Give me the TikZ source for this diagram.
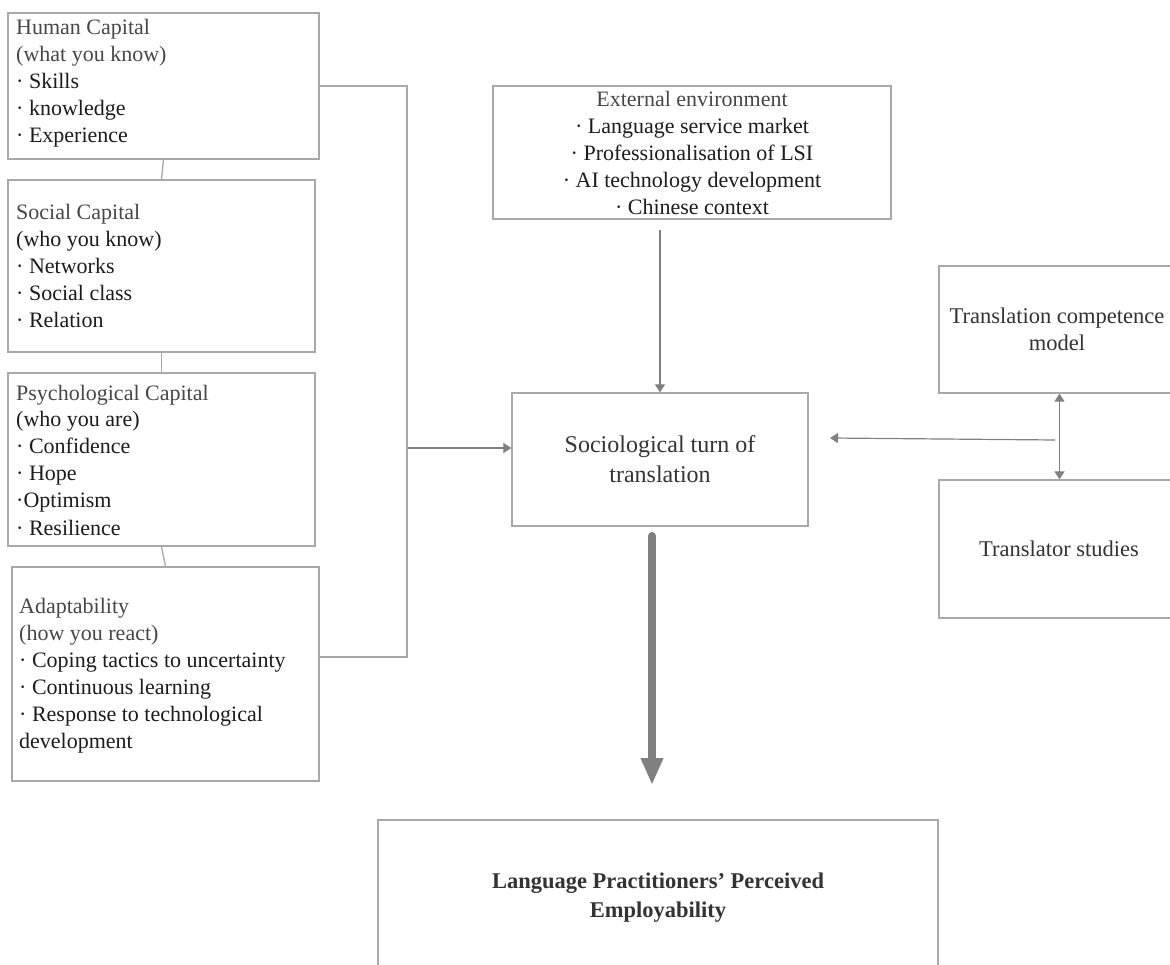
\documentclass[tikz,border=0pt]{standalone}
\usepackage{fontspec}
\setmainfont{Liberation Serif}
\usetikzlibrary{arrows.meta}
\definecolor{boxline}{HTML}{A8A8A8}
\definecolor{arrowgray}{HTML}{808080}
\definecolor{headtext}{HTML}{474747}
\definecolor{itemtext}{HTML}{1C1C1C}
\definecolor{midtext}{HTML}{333333}

\begin{document}
\begin{tikzpicture}[x=1pt,y=-1pt,
  box/.style={draw=boxline,line width=1.3pt,rectangle,inner sep=0pt},
  txt/.style={inner sep=0pt,font=\fontsize{22}{27}\selectfont,text=itemtext},
  link/.style={draw=boxline,line width=1.3pt},
  flow/.style={draw=arrowgray,line width=1.2pt,-{Triangle[width=10pt,length=8pt]}},
  both/.style={draw=arrowgray,line width=1.2pt,{Triangle[width=10pt,length=8pt]}-{Triangle[width=10pt,length=8pt]}},
  bigflow/.style={draw=arrowgray,line width=8pt,line cap=round,-{Triangle[width=21pt,length=27pt]}},
]
\clip (0,0) rectangle (1170,965);
\fill[white] (0,0) rectangle (1170,965);

% employability resources (left column)
\node[box,minimum width=311pt,minimum height=146pt] (hc) at (163.5,86) {};
\node[box,minimum width=307pt,minimum height=172pt] (sc) at (161.5,266) {};
\node[box,minimum width=307pt,minimum height=173pt] (pc) at (161.5,459.5) {};
\node[box,minimum width=307pt,minimum height=214pt] (ad) at (165.5,674) {};

\node[txt,anchor=base west] (hct) at (16,35) {\begin{tabular}[t]{@{}l@{}}
\textcolor{headtext}{Human Capital}\\
\textcolor{headtext}{(what you know)}\\
· Skills\\
· knowledge\\
· Experience
\end{tabular}};

\node[txt,anchor=base west] (sct) at (16,220) {\begin{tabular}[t]{@{}l@{}}
\textcolor{headtext}{Social Capital}\\
(who you know)\\
· Networks\\
· Social class\\
· Relation
\end{tabular}};

\node[txt,anchor=base west] (pct) at (16,400) {\begin{tabular}[t]{@{}l@{}}
\textcolor{headtext}{Psychological Capital}\\
(who you are)\\
· Confidence\\
· Hope\\
·Optimism\\
· Resilience
\end{tabular}};

\node[txt,anchor=base west] (adt) at (19,613) {\begin{tabular}[t]{@{}l@{}}
\textcolor{headtext}{Adaptability}\\
\textcolor{headtext}{(how you react)}\\
· Coping tactics to uncertainty\\
· Continuous learning\\
· Response to technological\\
development
\end{tabular}};

% context and theory boxes
\node[box,minimum width=398pt,minimum height=133pt] (ext) at (692,152.5) {};
\node[txt,anchor=base] (extt) at (692,107) {\begin{tabular}[t]{@{}c@{}}
\textcolor{headtext}{External environment}\\
· Language service market\\
· Professionalisation of LSI\\
· AI technology development\\
· Chinese context
\end{tabular}};

\node[box,minimum width=296pt,minimum height=133pt] (soc) at (660,459.5) {};
\node[txt,anchor=base,font=\fontsize{24}{29}\selectfont,text=midtext] (soct) at (660,453) {\begin{tabular}[t]{@{}c@{}}
Sociological turn of\\
translation
\end{tabular}};

\node[box,minimum width=241pt,minimum height=127pt] (tcm) at (1059.5,329.5) {};
\node[txt,anchor=base,font=\fontsize{22.5}{27}\selectfont,text=midtext] (tcmt) at (1057,324) {\begin{tabular}[t]{@{}c@{}}
Translation competence\\
model
\end{tabular}};

\node[box,minimum width=241pt,minimum height=138pt] (ts) at (1059.5,549) {};
\node[txt,anchor=base,font=\fontsize{22.5}{27}\selectfont,text=midtext] (tst) at (1059,556) {Translator studies};

% outcome
\node[box,minimum width=560pt,minimum height=170pt] (emp) at (658,905) {};
\node[txt,anchor=base,font=\fontsize{22.5}{29}\selectfont\bfseries,text=midtext] (empt) at (658,888) {\begin{tabular}[t]{@{}c@{}}
Language Practitioners’ Perceived\\
Employability
\end{tabular}};

% links between the four capitals
\draw[link] (hc.south) -- (sc.north);
\draw[link] (sc.south) -- (pc.north);
\draw[link] (pc.south) -- (ad.north);

% bracket gathering the capitals
\coordinate (bt) at (407,86);
\coordinate (bb) at (407,657);
\coordinate (bm) at (408,448);
\draw[link] (hc.east |- bt) -- (bt) -- (bb) -- (ad.east |- bb);
\draw[flow] (bm) -- (soc.west |- bm);

% context into the sociological turn
\coordinate (es) at (660,230);
\draw[flow] (es) -- (soc.north);

% theory side
\coordinate (rs) at (1055,440);
\coordinate (rt) at (830,438);
\draw[flow] (rs) -- (rt);
\draw[both] (tcm.south) -- (ts.north);

% main outcome arrow
\coordinate (ms) at (652,536);
\coordinate (me) at (652,785);
\draw[bigflow] (ms) -- (me);
\end{tikzpicture}
\end{document}
